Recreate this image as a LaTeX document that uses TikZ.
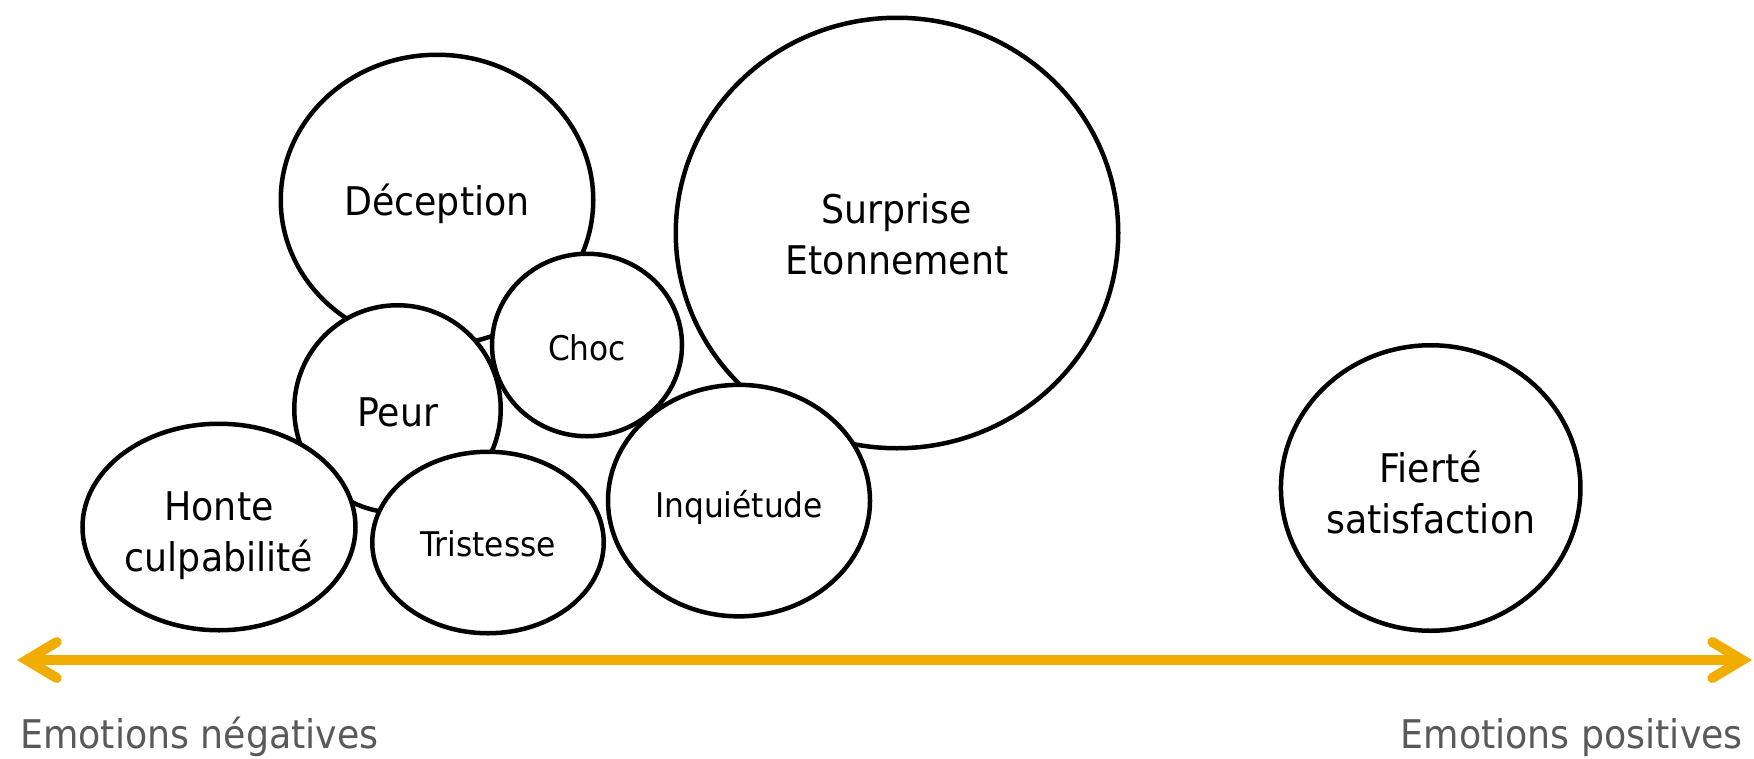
\documentclass[tikz,border=0pt]{standalone}
\usepackage{fontspec}
\setmainfont{DejaVu Sans}[FakeStretch=0.92]
\usetikzlibrary{shapes.geometric,arrows.meta}
\definecolor{axisc}{RGB}{240,173,0}
\definecolor{labelgrey}{RGB}{89,89,89}
\begin{document}
\begin{tikzpicture}[x=1pt,y=-1pt,
  emo/.style={ellipse,draw=black,fill=white,line width=4.5pt,inner sep=0pt},
  bigtxt/.style={inner sep=0pt,anchor=base,align=center,font=\fontsize{39.5}{51}\selectfont},
  smalltxt/.style={inner sep=0pt,anchor=base,align=center,font=\fontsize{34}{41}\selectfont},
  axislabel/.style={inner sep=0pt,text=labelgrey,font=\fontsize{39.5}{48}\selectfont},
  barbtip/.tip={Straight Barb[length=30pt,width=36pt,line cap=round,line join=miter]}]
\useasboundingbox (0,0) rectangle (1754,758);
\node[emo,minimum width=312.5pt,minimum height=290.5pt] (dec) at (437,200) {};
\node[bigtxt] (dect) at ([yshift=-15.5pt]dec.center) {Déception};
\node[emo,minimum width=442.5pt,minimum height=430.5pt] (sur) at (897,233) {};
\node[bigtxt] (surt) at ([yshift=-41pt]sur.center) {Surprise\\Etonnement};
\node[emo,minimum width=206.5pt,minimum height=207.5pt] (peur) at (397.5,409) {};
\node[bigtxt] (peurt) at ([yshift=-17pt]peur.center) {Peur};
\node[emo,minimum width=190pt,minimum height=182.5pt] (choc) at (587,345) {};
\node[smalltxt] (choct) at ([yshift=-15pt]choc.center) {Choc};
\node[emo,minimum width=273pt,minimum height=206.5pt] (honte) at (219,527) {};
\node[bigtxt] (hontet) at ([yshift=-44pt]honte.center) {Honte\\culpabilité};
\node[emo,minimum width=231.5pt,minimum height=181.5pt] (tris) at (488,542.5) {};
\node[smalltxt] (trist) at ([yshift=-14pt]tris.center) {Tristesse};
\node[emo,minimum width=262pt,minimum height=231.5pt] (inq) at (739,500.6) {};
\node[smalltxt] (inqt) at ([yshift=-17pt]inq.center) {Inquiétude};
\node[emo,minimum width=299.5pt,minimum height=285.5pt] (fier) at (1430.7,488) {};
\node[bigtxt] (fiert) at ([yshift=-45.5pt]fier.center) {Fierté\\satisfaction};
\coordinate (axl) at (17,660);
\coordinate (axr) at (1752,660);
\draw[axisc,line width=10pt,barbtip-barbtip] (axl) -- (axr);
\node[axislabel,anchor=base west] (neg) at (20,748) {Emotions négatives};
\node[axislabel,anchor=base east] (pos) at (1743,748) {Emotions positives};
\end{tikzpicture}
\end{document}
